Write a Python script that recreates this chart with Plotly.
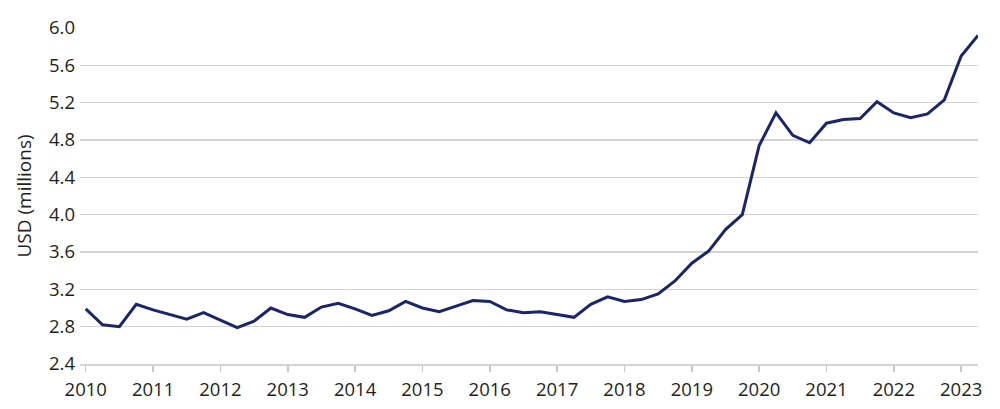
import plotly.graph_objects as go

quarters = [2010 + 0.25 * i for i in range(54)]
values = [
    2.99, 2.82, 2.80, 3.04,   # 2010
    2.98, 2.93, 2.88, 2.95,   # 2011
    2.87, 2.79, 2.86, 3.00,   # 2012
    2.93, 2.90, 3.01, 3.05,   # 2013
    2.99, 2.92, 2.97, 3.07,   # 2014
    3.00, 2.96, 3.02, 3.08,   # 2015
    3.07, 2.98, 2.95, 2.96,   # 2016
    2.93, 2.90, 3.04, 3.12,   # 2017
    3.07, 3.09, 3.15, 3.29,   # 2018
    3.48, 3.61, 3.84, 4.00,   # 2019
    4.74, 5.09, 4.85, 4.77,   # 2020
    4.98, 5.02, 5.03, 5.21,   # 2021
    5.09, 5.04, 5.08, 5.23,   # 2022
    5.70, 5.92,               # 2023
]
year_ticks = list(range(2010, 2024))
year_labels = [str(y) for y in year_ticks]
y_ticks = [2.4, 2.8, 3.2, 3.6, 4.0, 4.4, 4.8, 5.2, 5.6, 6.0]
y_labels = [f"{v:.1f}" for v in y_ticks]

fig = go.Figure()
fig.add_trace(go.Scatter(
    x=quarters, y=values, mode="lines",
    line=dict(color="#1b2568", width=3),
    hoverinfo="skip", cliponaxis=False,
))

font = dict(family="Open Sans", size=18.5, color="#231f20")
fig.update_layout(
    width=1000, height=409,
    margin=dict(l=80, r=22, t=28, b=45, autoexpand=False),
    paper_bgcolor="white", plot_bgcolor="white",
    showlegend=False,
    font=font,
)
fig.update_xaxes(
    range=[2009.915, 2023.25],
    tickmode="array", tickvals=year_ticks, ticktext=year_labels,
    ticks="outside", ticklen=6, tickcolor="#c8c8c8", tickwidth=1.5,
    showline=True, linecolor="#d4d4d4", linewidth=1.5,
    showgrid=False, zeroline=False, automargin=False,
    tickfont=font, ticklabelstandoff=2,
)
fig.update_yaxes(
    range=[2.4, 6.0],
    tickmode="array", tickvals=y_ticks, ticktext=y_labels,
    showgrid=True, gridcolor="#d4d4d4", gridwidth=1.5,
    zeroline=False, showline=False, automargin=False,
    ticks="", ticklabelstandoff=4,
    tickfont=font,
    title=dict(text="USD (millions)", font=dict(family="Open Sans", size=19, color="#231f20"), standoff=12),
)

fig.write_html(
    "out.html",
    config={"displayModeBar": False, "staticPlot": True},
    post_script="document.body.style.margin='0';document.body.style.padding='0';document.body.style.overflow='hidden';",
)
